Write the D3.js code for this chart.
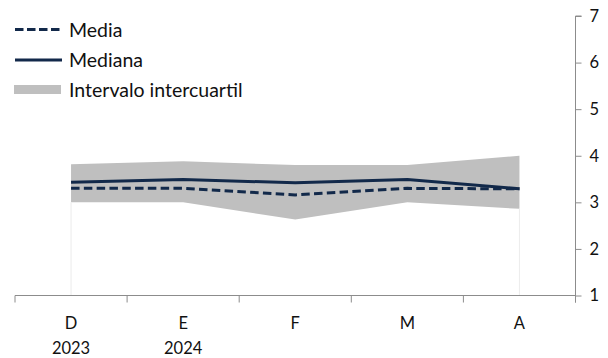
<!DOCTYPE html>
<html>
<head>
<meta charset="utf-8">
<script src="https://cdn.jsdelivr.net/npm/d3@7"></script>
<style>
  html, body { margin: 0; padding: 0; background: #fff; }
  svg { display: block; font-family: Lato, "Open Sans", sans-serif; }
</style>
</head>
<body>
<svg id="chart" width="608" height="358"></svg>
<script>
const months = ["D", "E", "F", "M", "A"];
const years = ["2023", "2024", "", "", ""];
const media = [3.30, 3.30, 3.16, 3.30, 3.29];
const mediana = [3.43, 3.49, 3.42, 3.49, 3.29];
const q1 = [3.00, 3.00, 2.63, 3.00, 2.86];
const q3 = [3.82, 3.88, 3.80, 3.80, 4.00];
const yTicks = [1, 2, 3, 4, 5, 6, 7];
const legendLabels = ["Media", "Mediana", "Intervalo intercuartil"];

const navy = "#12294a";
const grey = "#bfbfbf";
const axisColor = "#8c8c8c";

const svg = d3.select("#chart");
const x = d3.scaleBand().domain(months).range([15, 575.5]).padding(0);
const cx = d => x(d) + x.bandwidth() / 2;
const y = d3.scaleLinear().domain([1, 7]).range([295.5, 16]);

const data = months.map((m, i) => ({ m, media: media[i], mediana: mediana[i], q1: q1[i], q3: q3[i] }));

// Interquartile area
svg.append("path")
  .datum(data)
  .attr("fill", grey)
  .attr("d", d3.area().x(d => cx(d.m)).y0(d => y(d.q1)).y1(d => y(d.q3)));

// faint edges of lower (white) area
[data[0], data[data.length - 1]].forEach(d => {
  svg.append("line")
    .attr("x1", cx(d.m)).attr("x2", cx(d.m))
    .attr("y1", y(d.q1)).attr("y2", y(1))
    .attr("stroke", "#ececec").attr("stroke-width", 1);
});

// Lines
const line = key => d3.line().x(d => cx(d.m)).y(d => y(d[key]));
svg.append("path").datum(data)
  .attr("fill", "none").attr("stroke", navy).attr("stroke-width", 3)
  .attr("stroke-linejoin", "round")
  .attr("d", line("mediana"));
svg.append("path").datum(data)
  .attr("fill", "none").attr("stroke", navy).attr("stroke-width", 3)
  .attr("stroke-dasharray", "8.5,4.3")
  .attr("d", line("media"));

// Right axis
const yAxis = d3.axisRight(y).tickValues(yTicks).tickSize(6).tickPadding(8).tickFormat(d3.format("d"));
const gy = svg.append("g").attr("transform", "translate(575.5,0)").call(yAxis);
gy.select(".domain").attr("stroke", axisColor).attr("d", `M6,${y(7)}H0V${y(1) + 7}`);
gy.selectAll(".tick line").attr("stroke", axisColor);
gy.selectAll(".tick text").attr("fill", "#111").style("font-size", "16.5px").style("font-family", "Lato, sans-serif");

// Bottom axis
const gx = svg.append("g");
gx.append("line")
  .attr("x1", 15).attr("x2", 575.5).attr("y1", y(1)).attr("y2", y(1))
  .attr("stroke", axisColor);
const bounds = months.map(m => x(m)).concat([x(months[months.length - 1]) + x.bandwidth()]);
gx.selectAll("line.tk").data(bounds).join("line").attr("class", "tk")
  .attr("x1", d => d).attr("x2", d => d)
  .attr("y1", y(1)).attr("y2", y(1) + 7)
  .attr("stroke", axisColor);
gx.selectAll("text.mo").data(months).join("text").attr("class", "mo")
  .attr("x", d => cx(d)).attr("y", 328.5)
  .attr("text-anchor", "middle").attr("fill", "#111")
  .style("font-size", "16.5px").text(d => d);
gx.selectAll("text.yr").data(years).join("text").attr("class", "yr")
  .attr("x", (d, i) => cx(months[i])).attr("y", 354)
  .attr("text-anchor", "middle").attr("fill", "#111")
  .style("font-size", "16.5px").text(d => d);

// Legend
const lg = svg.append("g");
lg.append("line").attr("x1", 15).attr("x2", 62).attr("y1", 29.5).attr("y2", 29.5)
  .attr("stroke", navy).attr("stroke-width", 3).attr("stroke-dasharray", "8.5,3.5");
lg.append("line").attr("x1", 15).attr("x2", 62).attr("y1", 60).attr("y2", 60)
  .attr("stroke", navy).attr("stroke-width", 3);
lg.append("rect").attr("x", 14).attr("y", 85).attr("width", 47).attr("height", 9).attr("fill", grey);
const ly = [29.5, 60, 90];
lg.selectAll("text").data(legendLabels).join("text")
  .attr("x", 69).attr("y", (d, i) => ly[i])
  .attr("dy", "0.36em").attr("fill", "#111")
  .style("font-size", "19.5px").text(d => d);
</script>
</body>
</html>
